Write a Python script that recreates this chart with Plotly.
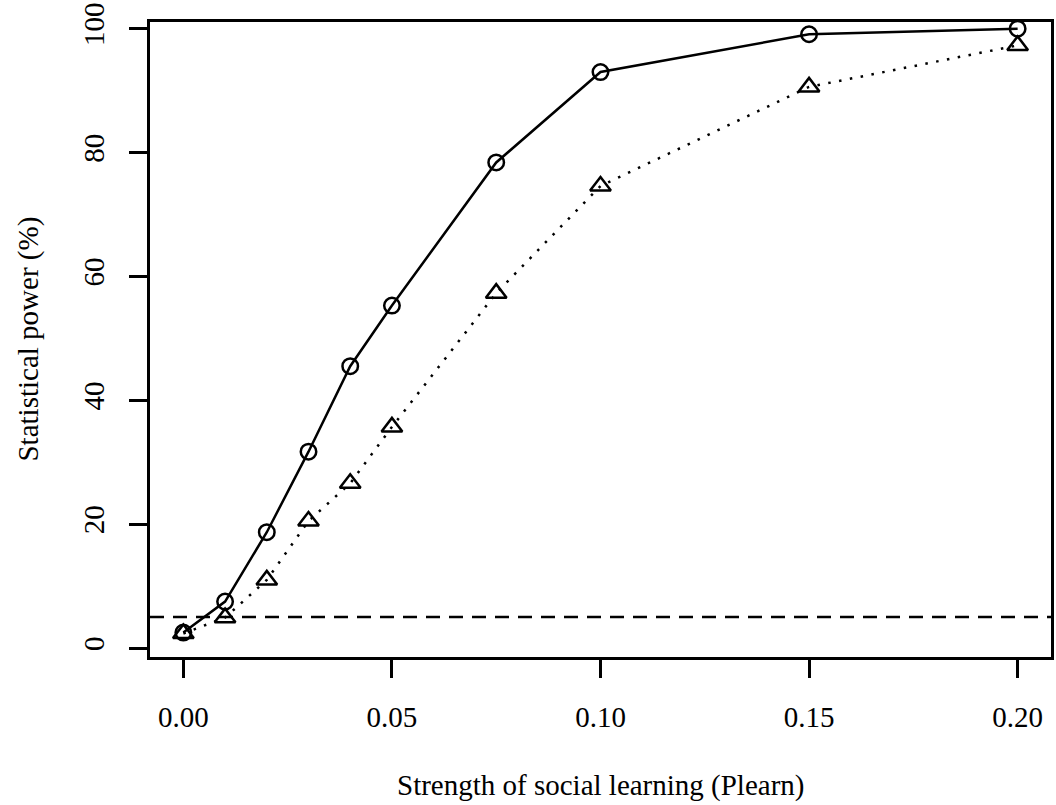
import plotly.graph_objects as go

plearn = [0.0, 0.01, 0.02, 0.03, 0.04, 0.05, 0.075, 0.10, 0.15, 0.20]
power_circle = [2.5, 7.5, 18.7, 31.7, 45.5, 55.3, 78.4, 93.0, 99.1, 100.0]
power_triangle = [2.35, 4.9, 11.0, 20.5, 26.6, 35.7, 57.3, 74.6, 90.6, 97.3]
alpha_level = 5
x_ticks = [0.0, 0.05, 0.10, 0.15, 0.20]
x_tick_labels = ["0.00", "0.05", "0.10", "0.15", "0.20"]
y_ticks = [0, 20, 40, 60, 80, 100]
y_tick_labels = ["0", "20", "40", "60", "80", "100"]

FONT = "Liberation Serif, Times New Roman, serif"

fig = go.Figure()
fig.add_trace(go.Scatter(
    x=plearn, y=power_triangle, mode="lines+markers",
    line=dict(color="black", width=2.5, dash="2.5px,8.5px"),
    marker=dict(symbol="triangle-up-open", size=18, color="black",
                line=dict(color="black", width=2.5)),
    showlegend=False))
fig.add_trace(go.Scatter(
    x=plearn, y=power_circle, mode="lines+markers",
    line=dict(color="black", width=2.5),
    marker=dict(symbol="circle-open", size=15.5, color="black",
                line=dict(color="black", width=2.5)),
    showlegend=False))

fig.add_shape(type="line", xref="paper", yref="y", x0=0, x1=1,
              y0=alpha_level, y1=alpha_level,
              line=dict(color="black", width=2.5, dash="14px,9px"))

fig.update_layout(
    width=1056, height=805,
    margin=dict(l=150, r=2, t=22, b=148),
    paper_bgcolor="white", plot_bgcolor="white",
    font=dict(family=FONT, size=29, color="black"),
    xaxis=dict(range=[-0.008, 0.208], tickvals=x_ticks, ticktext=x_tick_labels,
               ticks="outside", ticklen=18, tickwidth=2.5, tickcolor="black",
               showline=True, mirror=True, linewidth=2.5, linecolor="black",
               showgrid=False, zeroline=False, ticklabelstandoff=14,
               tickfont=dict(family=FONT, size=29)),
    yaxis=dict(range=[-1.45, 101.08], tickvals=y_ticks, ticktext=y_tick_labels,
               ticks="outside", ticklen=18, tickwidth=2.5, tickcolor="black",
               showline=True, mirror=True, linewidth=2.5, linecolor="black",
               showgrid=False, zeroline=False, tickangle=-90, ticklabelstandoff=14,
               tickfont=dict(family=FONT, size=29)),
    annotations=[
        dict(text="Strength of social learning (Plearn)", xref="paper", yref="paper",
             x=0.5, y=-0.202, xanchor="center", yanchor="middle", showarrow=False,
             font=dict(family=FONT, size=29)),
        dict(text="Statistical power (%)", xref="paper", yref="paper",
             x=-0.1354, y=0.5, xanchor="center", yanchor="middle", textangle=-90,
             showarrow=False, font=dict(family=FONT, size=29)),
    ],
)

fig.write_html("out.html")
